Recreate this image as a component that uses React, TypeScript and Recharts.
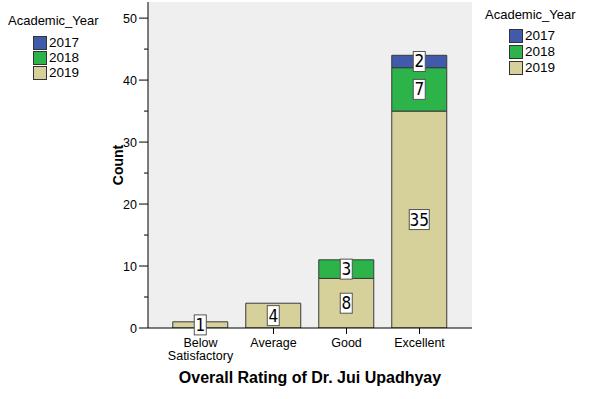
import React from 'react';
import { BarChart, Bar, XAxis, YAxis, CartesianGrid, LabelList } from 'recharts';

const categories = ['Below Satisfactory', 'Average', 'Good', 'Excellent'];
const values2017 = [0, 0, 0, 2];
const values2018 = [0, 0, 3, 7];
const values2019 = [1, 4, 8, 35];
const yTicks = [0, 5, 10, 15, 20, 25, 30, 35, 40, 45, 50];
const years = ['2017', '2018', '2019'];

const COLORS: Record<string, string> = {
  '2017': '#3f5ba9',
  '2018': '#2cb34a',
  '2019': '#d6d09b',
};

const FONT = '"Liberation Sans", Arial, sans-serif';
const NARROW = '"Liberation Sans Narrow", "DejaVu Sans Condensed", "Liberation Sans", Arial, sans-serif';

const data = categories.map((c, i) => ({
  category: c,
  y2017: values2017[i],
  y2018: values2018[i],
  y2019: values2019[i],
}));

const YTick = (props: any) => {
  const { x, y, payload } = props;
  const v = payload.value;
  const major = v % 10 === 0;
  return (
    <g>
      <line x1={major ? x + 2 : x + 7} x2={x + 11} y1={y} y2={y} stroke="#000" strokeWidth={1} />
      {major && (
        <text x={x} y={y} dy={4.5} textAnchor="end" fontSize={12.5} fontFamily={FONT} fill="#000">
          {v}
        </text>
      )}
    </g>
  );
};

const XTick = (props: any) => {
  const { x, y, payload } = props;
  const label: string = payload.value;
  const lines = label === 'Below Satisfactory' ? ['Below', 'Satisfactory'] : [label];
  return (
    <text x={x} y={y} textAnchor="middle" fontSize={12.5} fontFamily={FONT} fill="#000">
      {lines.map((l, i) => (
        <tspan key={i} x={x} dy={i === 0 ? 11 : 13}>
          {l}
        </tspan>
      ))}
    </text>
  );
};

const BoxLabel = (props: any) => {
  const { x, y, width, height, value } = props;
  if (!value) return null;
  const s = String(value);
  const w = s.length * 8 + 4;
  const h = 20;
  const cx = x + width / 2;
  const cy = y + height / 2;
  return (
    <g>
      <rect x={cx - w / 2} y={cy - h / 2} width={w} height={h} fill="#fff" stroke="#555" strokeWidth={1} />
      <text x={cx} y={cy} dy={6} textAnchor="middle" fontSize={17} fontFamily={NARROW} fill="#000">
        {s}
      </text>
    </g>
  );
};

const LegendBlock = ({ left, top, titleTop, swLeft, rowH }: any) => (
  <div style={{ position: 'absolute', left: 0, top: 0, fontFamily: FONT, fontSize: 13, color: '#000' }}>
    <div style={{ position: 'absolute', left, top: titleTop, whiteSpace: 'nowrap', lineHeight: '15px' }}>Academic_Year</div>
    {years.map((yr, i) => (
      <div key={yr} style={{ position: 'absolute', left: swLeft, top: top + i * rowH, display: 'flex', alignItems: 'center', whiteSpace: 'nowrap' }}>
        <div style={{ width: 14, height: 14, background: COLORS[yr], border: '1px solid #333', boxSizing: 'border-box' }} />
        <span style={{ marginLeft: 2, lineHeight: '14px', fontSize: 13.5 }}>{yr}</span>
      </div>
    ))}
  </div>
);

export default function App() {
  return (
    <div style={{ position: 'absolute', left: 0, top: 0, width: 597, height: 399, background: '#fff', overflow: 'hidden' }}>
      <BarChart
        width={597}
        height={399}
        data={data}
        margin={{ top: 2, right: 125, left: 0, bottom: 0 }}
        barCategoryGap="12%"
      >
        <CartesianGrid fill="#efefef" horizontal={false} vertical={false} />
        <XAxis
          dataKey="category"
          xAxisId="main"
          height={71}
          tickSize={6}
          tickMargin={2}
          tick={<XTick />}
          axisLine={{ stroke: '#000' }}
          tickLine={{ stroke: '#000' }}
          padding={{ left: 16, right: 16 }}
          interval={0}
          label={{
            value: 'Overall Rating of Dr. Jui Upadhyay',
            position: 'center',
            dy: 14,
            style: { fontSize: 16, fontWeight: 'bold', fontFamily: FONT, fill: '#000' },
          }}
        />
        <XAxis
          dataKey="category"
          xAxisId="top"
          orientation="top"
          height={0}
          tick={false}
          tickLine={false}
          axisLine={{ stroke: '#333' }}
          padding={{ left: 16, right: 16 }}
        />
        <YAxis
          yAxisId="main"
          width={148}
          domain={[0, 52.6]}
          ticks={yTicks}
          interval={0}
          tickSize={9}
          tickMargin={2}
          tickLine={false}
          tick={<YTick />}
          axisLine={{ stroke: '#000' }}
          allowDataOverflow
          label={{
            value: 'Count',
            angle: -90,
            position: 'center',
            dx: 44,
            style: { fontSize: 14, fontWeight: 'bold', fontFamily: FONT, fill: '#000' },
          }}
        />
        <YAxis
          yAxisId="right"
          orientation="right"
          width={0}
          domain={[0, 52.6]}
          tick={false}
          tickLine={false}
          axisLine={{ stroke: '#333' }}
        />
        <Bar dataKey="y2019" stackId="a" xAxisId="main" yAxisId="main" fill={COLORS['2019']} stroke="#3a3a3a" strokeWidth={1} isAnimationActive={false}>
          <LabelList dataKey="y2019" content={<BoxLabel />} />
        </Bar>
        <Bar dataKey="y2018" stackId="a" xAxisId="main" yAxisId="main" fill={COLORS['2018']} stroke="#3a3a3a" strokeWidth={1} isAnimationActive={false}>
          <LabelList dataKey="y2018" content={<BoxLabel />} />
        </Bar>
        <Bar dataKey="y2017" stackId="a" xAxisId="main" yAxisId="main" fill={COLORS['2017']} stroke="#3a3a3a" strokeWidth={1} isAnimationActive={false}>
          <LabelList dataKey="y2017" content={<BoxLabel />} />
        </Bar>
      </BarChart>
      <LegendBlock left={8} titleTop={13} swLeft={33} top={36} rowH={15} />
      <LegendBlock left={485} titleTop={7} swLeft={509} top={29} rowH={16} />
    </div>
  );
}
